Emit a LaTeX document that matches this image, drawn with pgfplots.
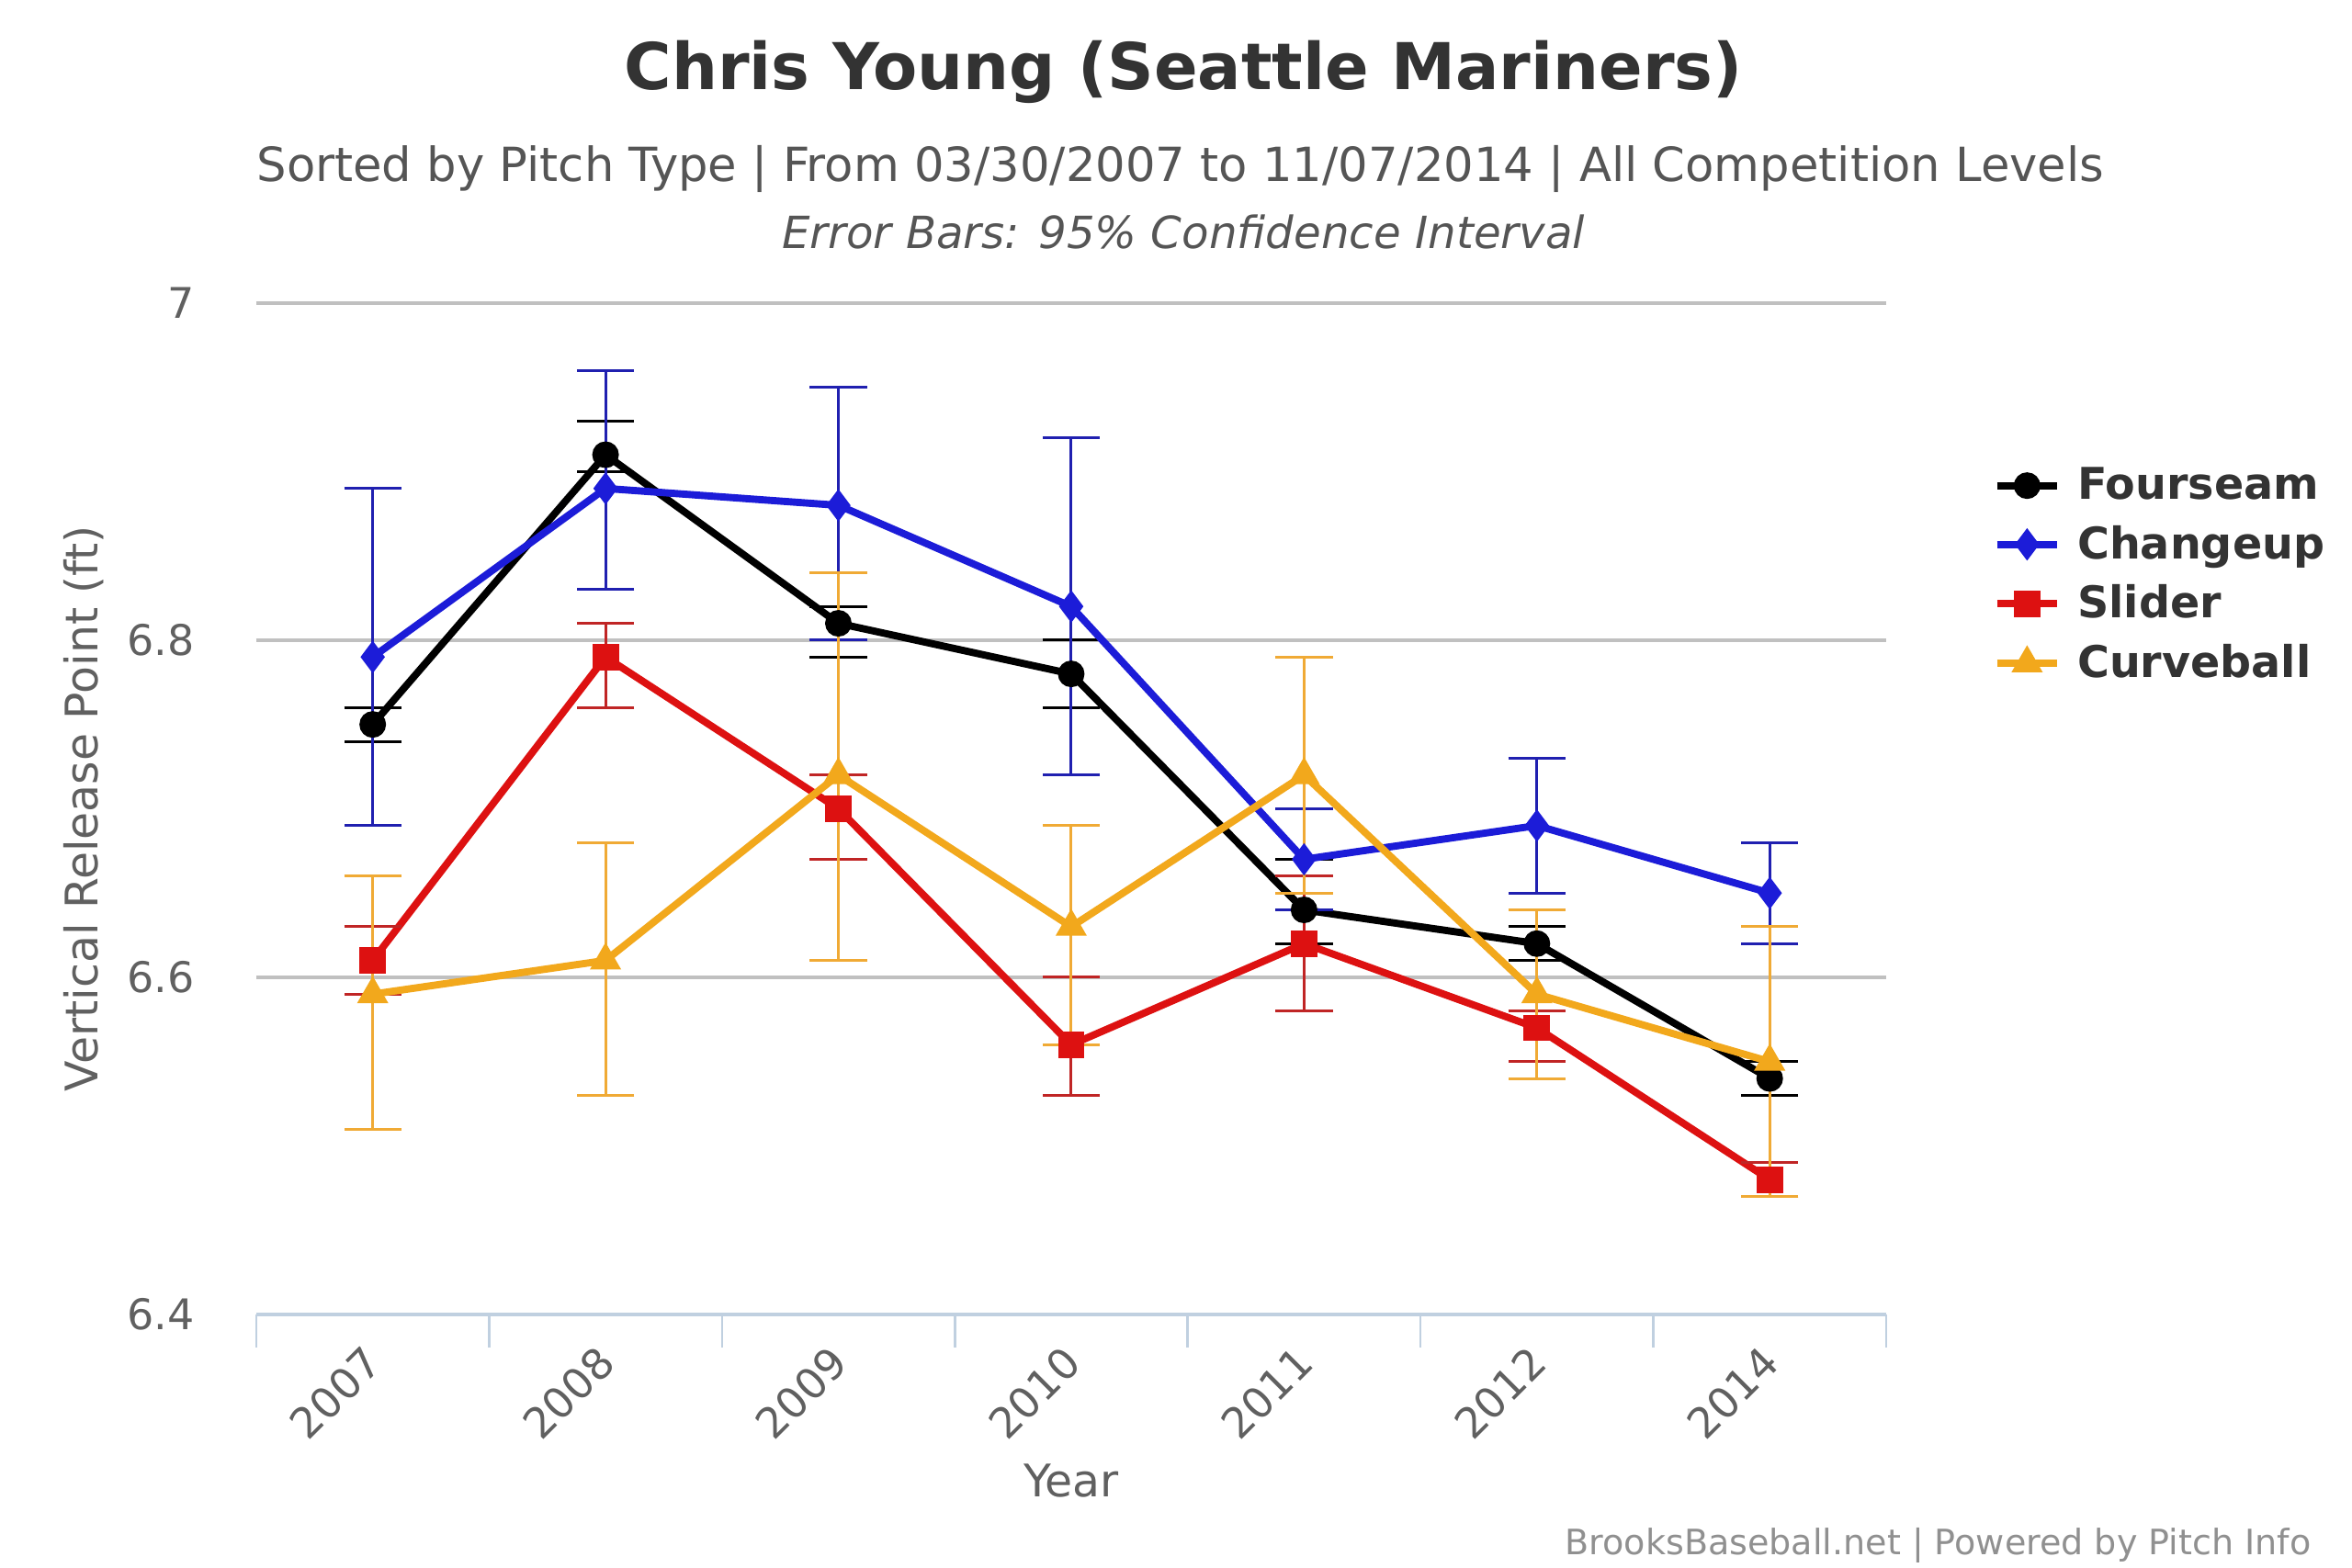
\documentclass[border=0pt]{standalone}
\usepackage{fontspec}
\setmainfont{DejaVu Sans}
\usepackage{pgfplots}
\pgfplotsset{compat=1.18}
\definecolor{titlec}{HTML}{333333}
\definecolor{subc}{HTML}{555555}
\definecolor{labc}{HTML}{606060}
\definecolor{credc}{HTML}{909090}
\definecolor{gridc}{HTML}{C0C0C0}
\definecolor{axisc}{HTML}{C0D0E0}
\definecolor{cblue}{HTML}{1C1CD8}
\definecolor{cblueE}{HTML}{2020B0}
\definecolor{cred}{HTML}{DD1111}
\definecolor{credE}{HTML}{C02525}
\definecolor{corange}{HTML}{F2A81C}
\definecolor{corangeE}{HTML}{F0AA35}
\begin{document}
\begin{tikzpicture}
\path[use as bounding box] (0pt,0pt) rectangle (780pt,-520pt);
\node[font=\fontsize{21.4}{25}\selectfont\bfseries, text=titlec] at (392.5pt,-24pt) {Chris Young (Seattle Mariners)};
\node[font=\fontsize{15.6}{18}\selectfont, text=subc] at (391.5pt,-56pt) {Sorted by Pitch Type | From 03/30/2007 to 11/07/2014 | All Competition Levels};
\node[font=\fontsize{14.7}{17}\selectfont\itshape, text=subc] at (392.5pt,-77pt) {Error Bars: 95\% Confidence Interval};
\node[font=\fontsize{11.6}{13}\selectfont, text=credc, anchor=east] at (770pt,-512.5pt) {BrooksBaseball.net | Powered by Pitch Info};
\begin{axis}[
  at={(85pt,-436pt)}, anchor=south west,
  scale only axis, width=540.5pt, height=335.5pt,
  xmin=-0.5, xmax=6.5, ymin=6.4, ymax=7,
  axis x line*=bottom, axis y line*=left,
  x axis line style={draw=axisc, line width=1.5pt, -},
  y axis line style={draw=none},
  xtick={-0.5,0.5,...,6.5},
  x tick label as interval,
  xticklabels={2007,2008,2009,2010,2011,2012,2014},
  xtick style={draw=axisc, line width=0.8pt},
  tick align=outside,
  major tick length=11pt,
  ytick={6.4,6.6,6.8,7},
  yticklabels={6.4,6.6,6.8,7},
  ytick style={draw=none},
  ymajorgrids, grid style={draw=gridc, line width=1pt},
  /pgf/number format/assume math mode=true,
  tick label style={font=\fontsize{14}{16}\selectfont, text=labc},
  x tick label style={rotate=45, anchor=east, xshift=2pt, yshift=-2pt},
  y tick label style={xshift=-6pt},
  xlabel={Year}, ylabel={Vertical Release Point (ft)},
  label style={font=\fontsize{14.9}{17}\selectfont, text=labc},
  xlabel style={at={(axis description cs:0.5,-0.1647)}, anchor=center},
  ylabel style={at={(axis description cs:-0.1058,0.5)}, anchor=center, rotate=0},
  legend style={at={(1.0654,0.844)}, anchor=north west, draw=none, fill=none,
    font=\fontsize{14.5}{17}\selectfont\bfseries, text=titlec,
    row sep=3.2pt, column sep=3.5pt, inner sep=0pt, nodes={inner sep=2pt}},
  legend cell align=left,
  legend image code/.code={\draw[mark repeat=2,mark phase=2] plot coordinates {(0pt,0pt) (10pt,0pt) (20pt,0pt)};},
  every axis plot/.append style={line width=2.4pt},
]
\addplot[color=black, mark=*, mark size=3.2pt,
  error bars/.cd, y dir=both, y explicit,
  error bar style={line width=0.9pt, color=black},
  error mark options={rotate=90, line width=0.9pt, mark size=9.5pt, color=black}]
  table[x=x, y=y, y error plus expr=\thisrow{hi}-\thisrow{y}, y error minus expr=\thisrow{y}-\thisrow{lo}] {
x y lo hi
0 6.75 6.74 6.76
1 6.91 6.90 6.93
2 6.81 6.79 6.82
3 6.78 6.76 6.80
4 6.64 6.62 6.67
5 6.62 6.61 6.63
6 6.54 6.53 6.55
};
\addlegendentry{Fourseam}
\addplot[color=cblue, mark=diamond*, mark size=3.4pt,
  error bars/.cd, y dir=both, y explicit,
  error bar style={line width=0.9pt, color=cblueE},
  error mark options={rotate=90, line width=0.9pt, mark size=9.5pt, color=cblueE}]
  table[x=x, y=y, y error plus expr=\thisrow{hi}-\thisrow{y}, y error minus expr=\thisrow{y}-\thisrow{lo}] {
x y lo hi
0 6.79 6.69 6.89
1 6.89 6.83 6.96
2 6.88 6.80 6.95
3 6.82 6.72 6.92
4 6.67 6.64 6.70
5 6.69 6.65 6.73
6 6.65 6.62 6.68
};
\addlegendentry{Changeup}
\addplot[color=cred, mark=square*, mark size=3.2pt,
  error bars/.cd, y dir=both, y explicit,
  error bar style={line width=0.9pt, color=credE},
  error mark options={rotate=90, line width=0.9pt, mark size=9.5pt, color=credE}]
  table[x=x, y=y, y error plus expr=\thisrow{hi}-\thisrow{y}, y error minus expr=\thisrow{y}-\thisrow{lo}] {
x y lo hi
0 6.61 6.59 6.63
1 6.79 6.76 6.81
2 6.70 6.67 6.72
3 6.56 6.53 6.60
4 6.62 6.58 6.66
5 6.57 6.55 6.58
6 6.48 6.47 6.49
};
\addlegendentry{Slider}
\addplot[color=corange, mark=triangle*, mark size=3.6pt,
  error bars/.cd, y dir=both, y explicit,
  error bar style={line width=0.9pt, color=corangeE},
  error mark options={rotate=90, line width=0.9pt, mark size=9.5pt, color=corangeE}]
  table[x=x, y=y, y error plus expr=\thisrow{hi}-\thisrow{y}, y error minus expr=\thisrow{y}-\thisrow{lo}] {
x y lo hi
0 6.59 6.51 6.66
1 6.61 6.53 6.68
2 6.72 6.61 6.84
3 6.63 6.56 6.69
4 6.72 6.65 6.79
5 6.59 6.54 6.64
6 6.55 6.47 6.63
};
\addlegendentry{Curveball}
\end{axis}
\end{tikzpicture}
\end{document}
